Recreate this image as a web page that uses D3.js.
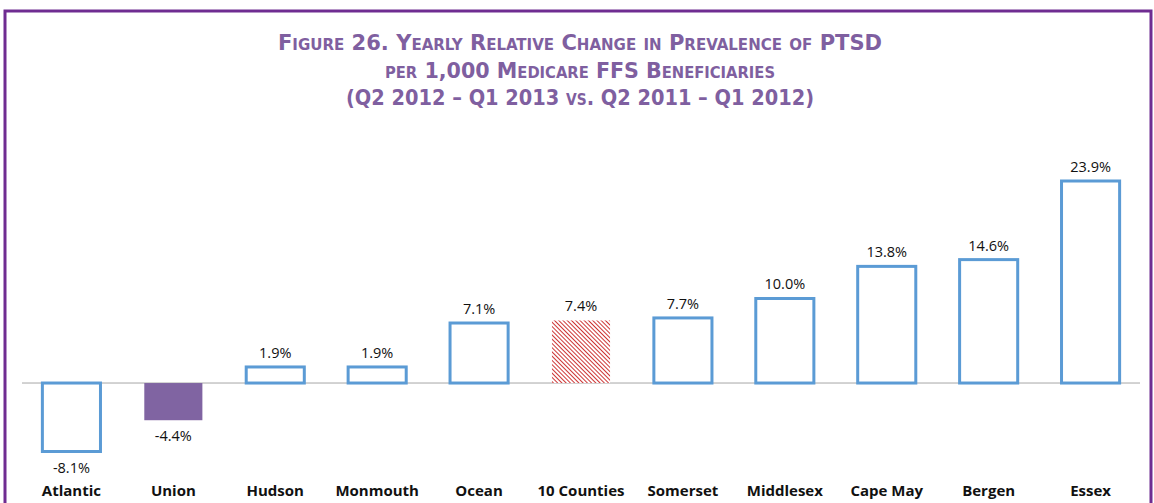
<!DOCTYPE html>
<html lang="en">
<head>
<meta charset="utf-8">
<title>Figure 26</title>
<script src="https://d3js.org/d3.v7.min.js"></script>
<style>
  body { margin: 0; background: #fff; }
  .title { font-family: "DejaVu Sans Condensed", "Liberation Sans Narrow", sans-serif; font-weight: bold; font-variant: small-caps; fill: #7f5fa0; }
  .val { font-family: "Open Sans", "Liberation Sans", sans-serif; font-size: 14.5px; fill: #111; }
  .cat { font-family: "Open Sans", "Lato", sans-serif; font-weight: bold; font-size: 15px; fill: #111; }
</style>
</head>
<body>
<script>
var counties = ["Atlantic", "Union", "Hudson", "Monmouth", "Ocean", "10 Counties", "Somerset", "Middlesex", "Cape May", "Bergen", "Essex"];
var change = [-8.1, -4.4, 1.9, 1.9, 7.1, 7.4, 7.7, 10.0, 13.8, 14.6, 23.9];
var titleLines = [
  "Figure 26. Yearly Relative Change in Prevalence of PTSD",
  "per 1,000 Medicare FFS Beneficiaries",
  "(Q2 2012 \u2013 Q1 2013 vs. Q2 2011 \u2013 Q1 2012)"
];

var w = 1154, h = 503;
var svg = d3.select("body").append("svg")
    .attr("width", w)
    .attr("height", h);

// pattern for the 10 counties bar
var defs = svg.append("defs");
var pat = defs.append("pattern")
    .attr("id", "hatch")
    .attr("patternUnits", "userSpaceOnUse")
    .attr("width", 3).attr("height", 3)
    .attr("patternTransform", "rotate(-45)");
pat.append("rect").attr("width", 3).attr("height", 3).attr("fill", "#fff");
pat.append("line").attr("x1", 0).attr("y1", 0).attr("x2", 0).attr("y2", 3)
    .attr("stroke", "#c00000").attr("stroke-width", 1.6);

// frame
svg.append("path")
    .attr("d", "M5," + h + " V11 H1151 V" + h)
    .attr("fill", "none")
    .attr("stroke", "#6f2c91")
    .attr("stroke-width", 3);

// title
var titleWidths = [604, 390, 468];
svg.selectAll(".title")
  .data(titleLines)
  .enter().append("text")
    .attr("class", "title")
    .attr("x", 580)
    .attr("y", function(d, i) { return 50 + i * 27.5; })
    .attr("text-anchor", "middle")
    .attr("font-size", "21px")
    .attr("textLength", function(d, i) { return titleWidths[i]; })
    .attr("lengthAdjust", "spacingAndGlyphs")
    .text(function(d) { return d; });

var x = d3.scaleBand()
    .domain(counties)
    .range([22, 1140])
    .paddingInner(0.43)
    .paddingOuter(0.2);

var y = d3.scaleLinear()
    .domain([-8.1, 23.9])
    .range([451.5, 181]);

var data = counties.map(function(c, i) { return { name: c, v: change[i] }; });

svg.append("line")
    .attr("x1", 22).attr("x2", 1140)
    .attr("y1", y(0)).attr("y2", y(0))
    .attr("stroke", "#a6a6a6")
    .attr("stroke-width", 1);

svg.selectAll(".bar")
  .data(data)
  .enter().append("rect")
    .attr("class", "bar")
    .attr("x", function(d) { return x(d.name); })
    .attr("width", x.bandwidth())
    .attr("y", function(d) { return y(Math.max(0, d.v)); })
    .attr("height", function(d) { return Math.abs(y(d.v) - y(0)); })
    .attr("fill", function(d) {
      if (d.name == "Union") return "#8064a2";
      if (d.name == "10 Counties") return "url(#hatch)";
      return "#fff";
    })
    .attr("stroke", function(d) {
      return (d.name == "Union" || d.name == "10 Counties") ? "none" : "#5b9bd5";
    })
    .attr("stroke-width", 3);

svg.selectAll(".val")
  .data(data)
  .enter().append("text")
    .attr("class", "val")
    .attr("x", function(d) { return x(d.name) + x.bandwidth() / 2; })
    .attr("y", function(d) { return d.v >= 0 ? y(d.v) - 9 : y(d.v) + 21; })
    .attr("text-anchor", "middle")
    .text(function(d) { return d.v.toFixed(1) + "%"; });

svg.append("g")
  .selectAll(".cat")
  .data(counties)
  .enter().append("text")
    .attr("class", "cat")
    .attr("x", function(d) { return x(d) + x.bandwidth() / 2; })
    .attr("y", 496)
    .attr("text-anchor", "middle")
    .text(function(d) { return d; });
</script>
</body>
</html>
